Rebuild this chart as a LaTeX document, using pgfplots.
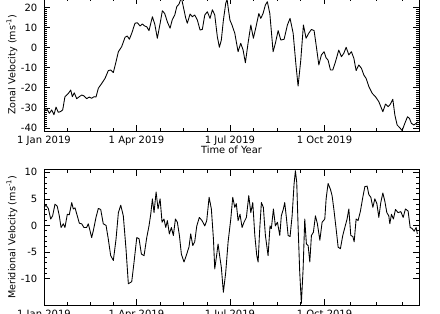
\documentclass[border=0pt]{standalone}
\usepackage{pgfplots}
\pgfplotsset{compat=1.18}
\usepackage{fontspec}
\setmainfont{DejaVu Sans}

\pgfplotstableread{
d v
0 -31.0
2.6 -30.3
5.2 -32.7
7.5 -31
9.7 -33.4
11.7 -29.6
13.9 -32.2
16.2 -31.8
18.2 -31
20.4 -24.4
23.7 -22.8
26 -21.1
27.6 -24.4
29.5 -22.5
31.8 -25.4
34.4 -24.4
36.7 -23.6
38.9 -24
41.5 -25.4
44.1 -24.6
46.4 -25.2
48.7 -24.4
50.6 -24.6
52.9 -20.2
56.2 -17.8
59.4 -15.3
62.6 -11.4
64.9 -11.1
67.5 -12.4
70.1 -7
72.4 -2
75.6 0.5
78.9 5.2
81.1 5.8
83.1 4.2
85.4 7.2
88.6 12.2
90.9 12.4
93.5 10.8
95.7 11.8
98 10.8
100 10.4
102.2 8.5
105.5 15.4
107.8 11.8
110.3 4.7
113 12
115.2 18.4
117.5 17
120.1 12.8
122.7 9.7
124.9 14
127.3 16.3
129.2 20.4
131.5 21.8
133.7 25
135.6 20.4
138 14.6
139.5 12.2
142.2 16.8
144.4 15.4
146.7 16.3
149.3 13.7
151.9 8.8
154.1 9.1
156.5 16.3
159 17.9
161.6 14.6
163.9 18.9
166.2 16.3
168.7 5.5
170.7 0.2
172.6 3.8
174.6 13.7
176.9 22.1
178.2 24
179.5 19
181 13.7
183 11.3
185.7 7.2
188.9 -2
191.5 2.2
193.8 -1.2
196 -7.5
198.6 2.2
201.3 11.3
203.8 4.7
206.4 10.5
209.1 17
211 14.6
213.2 17
215.5 21.3
217.4 22.9
219.8 17
223 -2
225.2 2.2
227.9 8.5
230.5 3.8
233.7 4.2
236.9 11.3
239.5 14.6
242.5 7.2
245.1 -7.8
247.3 -19.1
249.9 -6.4
252.5 11.3
255.1 4.7
257.7 7.2
260.3 9.1
262.9 8.5
265.1 0.5
267.5 -8.6
270 -3.6
272.6 -2
274.5 -5
276.5 -6.2
278.8 -11.1
281.1 -11.1
283.7 -7
286.9 -1.2
289.5 -4.5
291.8 -2.8
294.1 0.2
296.7 -3.6
299.2 -2
301.6 -5.3
303.8 -11.4
306.4 -8.6
309 -10.3
311.3 -13.6
313.5 -15.3
316.2 -19.4
319.4 -22.7
322.6 -24.4
325.9 -26.9
329.8 -31.9
332.4 -28.1
335 -29.4
337.2 -28.1
339.5 -25.7
341.5 -33.5
343.7 -38.5
346 -39.7
348.6 -41.3
351.2 -37.7
353.8 -34.4
355.7 -35.2
357.6 -37.7
360 -38.5
362.2 -37.7
364 -37
}\zonal

\pgfplotstableread{
d v
0 3.4
1.9 3.8
4.2 3.2
6.5 1.2
8.4 1.8
10.7 4.0
12.9 3.6
14.9 1.8
16.6 -0.4
18.8 0.3
20.4 -0.4
22.7 2.1
24.6 2.0
27 4.3
28.5 3.1
30.2 3.3
32.4 1.8
34.4 0.4
36.7 0.3
38.9 -0.4
41.5 -0.4
43.1 0.3
44.8 -1
46.4 -2.3
48 -1
50.6 1.5
52.9 3.2
55.2 3.0
57.7 0.3
60.4 0
62.6 -2.6
64.9 -5.7
67.5 -6.6
70.1 -2.6
72.4 2.4
74.7 3.8
77.2 1.8
79.8 -4.4
82.1 -11
85.4 -10.6
87.6 -7
90.3 -2.3
92.5 -2.5
94.8 -5.4
97.4 -5.7
100 -2.3
102.2 -0.1
103.9 2.1
105.5 5
107.1 2.4
109.1 6.3
111 3.1
113 5
114.9 0.6
116.8 1.2
118.5 -0.4
120.1 0.9
122 -1.6
124 -0.4
125.9 -1.9
127.9 1.2
129.8 0.6
131.8 -1.9
133.7 -5.4
136.3 -6.9
138.9 -5.4
141.1 -4.1
142.8 -1.6
144.8 -3.8
146.7 -3.1
148.7 -0.1
151.2 1.5
153.8 0.9
156.5 -0.1
158.4 0.9
160.7 5.3
162.9 3.1
164.9 -2.5
166.2 -8.2
168.2 -5.4
169.4 -3.5
171.4 -6.3
172.6 -7.9
174.6 -12.6
176.9 -8.8
179.2 -3.1
181.8 1.2
183.7 5.3
185.7 3.4
187.2 4.1
188.9 0.9
190.8 2.1
192.8 -0.4
194.7 0.6
197 1.5
199.3 5.6
201.3 2.4
203.2 4.3
205.2 -1.9
207.1 -5.7
208.4 -6.9
210 -0.6
211.6 4.3
213.5 3.4
215.5 -1.9
218.1 -5.7
220 -0.1
221.3 -0.6
223.3 3.1
225.2 -0.1
227.2 0.6
229.5 -1.9
231 1.8
233 3.1
234.3 4.3
235.9 1.5
237.6 -1.9
239.5 -2.1
241.5 1.8
243.4 7.8
244.7 10.3
246 8.1
247.3 -0.1
248.9 -8.8
250.5 -14.7
252.2 -8.2
253.8 1.2
255.4 -3.5
257.1 -3.8
258.7 -6.9
260.3 -1.9
262.2 -1.3
264.2 1.8
266.1 0.3
268.5 -2.8
270.7 0.6
273.3 1.2
274.6 5
276.5 7.9
278.8 6.8
280.4 5.6
282.1 3.1
284.3 -0.6
286.3 -4.1
288.5 -4.4
290.8 -1.9
292.8 -0.4
295 1.2
296.7 3.1
298.6 -1.9
300.6 -2.1
301.9 -3.1
303.8 1.2
305.7 0.9
308 2.7
310.3 5.3
312.3 7.3
314.5 7.4
316.2 5.8
318.1 5.3
320.1 3.4
322 5
324 4.1
325.9 1.5
327.8 4.3
329.8 6.1
331.7 4.6
333.7 2.4
335.6 1.8
336.6 0.3
338.2 2.1
340.1 1.2
342.1 3.0
344.7 2.4
347.3 2.6
349.6 1.5
351.8 3.1
354.4 2.7
356.4 -0.4
358.3 -0.6
360.3 -1.1
362.2 -0.4
363.4 -1.6
}\merid

\pgfplotsset{
  panel/.style={
    scale only axis,
    width=281.25pt,
    xmin=0, xmax=365,
    anchor=south west,
    axis line style={black, line width=0.6pt},
    every tick/.style={black, line width=0.5pt},
    major tick length=4.5pt,
    minor tick length=2.2pt,
    tick align=inside,
    xtick={0,90,181,273},
    xticklabels={1 Jan 2019,1 Apr 2019,1 Jul 2019,1 Oct 2019},
    minor xtick={22.7,44.8,67.5,112.9,135.6,158.7,203.6,227.4,249.3,297.9,323.3,348.3},
    /pgf/number format/assume math mode=true,
    tick label style={font=\fontsize{7.5}{8.5}\selectfont},
    yticklabel style={xshift=-1.5pt},
    every axis y label/.style={at={(axis description cs:-0.0853,0.5)}, rotate=90, anchor=center, font=\fontsize{7.2}{8.5}\selectfont},
    every axis x label/.style={at={(axis description cs:0.5,0)}, anchor=center, yshift=-14.25pt, font=\fontsize{7.4}{8.5}\selectfont},
    xlabel={Time of Year},
    clip=true,
  }
}

\begin{document}
\begin{tikzpicture}
\useasboundingbox (0,0) rectangle (330pt,235.5pt);
\clip (0,0) rectangle (330pt,235.5pt);
\begin{axis}[panel,
  at={(33pt,137.25pt)},
  height=99.375pt,
  ymin=-41.5, ymax=24.5,
  ytick={-40,-30,-20,-10,0,10,20},
  minor y tick num=9,
  ylabel={Zonal Velocity (ms\textsuperscript{-1})},
]
\addplot[black, line width=0.65pt, line join=round] table[x=d, y=v] {\zonal};
\end{axis}
\begin{axis}[panel,
  at={(33pt,6.75pt)},
  height=101.5pt,
  ymin=-15, ymax=10.5,
  ytick={-10,-5,0,5,10},
  minor y tick num=4,
  ylabel={Meridional Velocity (ms\textsuperscript{-1})},
]
\addplot[black, line width=0.65pt, line join=round] table[x=d, y=v] {\merid};
\end{axis}
\end{tikzpicture}
\end{document}
